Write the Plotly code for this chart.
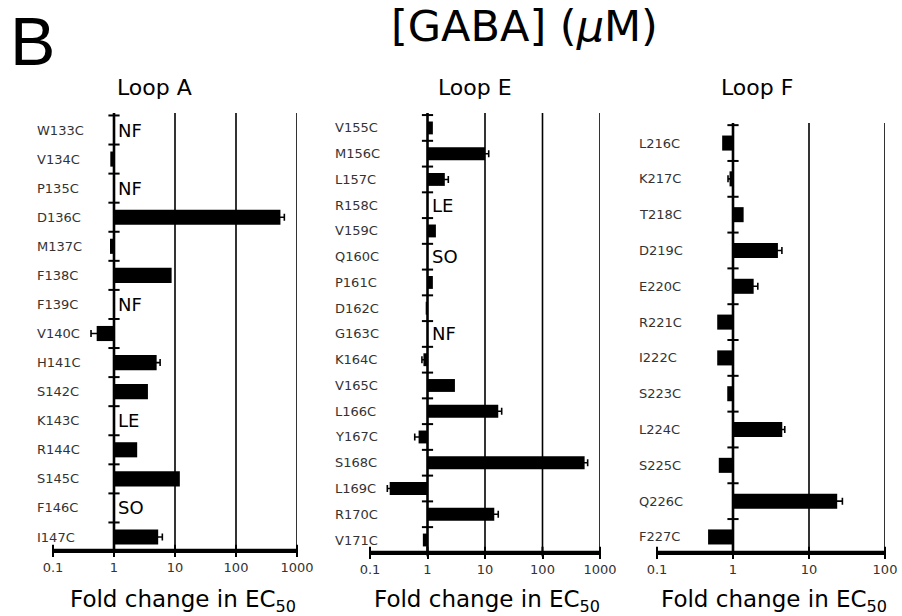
import math
import plotly.graph_objects as go

# ---------------- data ----------------
loopA_labels = ["W133C", "V134C", "P135C", "D136C", "M137C", "F138C", "F139C", "V140C",
                "H141C", "S142C", "K143C", "R144C", "S145C", "F146C", "I147C"]
loopA_fold = [None, 0.87, None, 535, 0.86, 8.8, None, 0.52, 5.0, 3.6, None, 2.4, 12.0, None, 5.3]
loopA_err = [None, 0, None, 85, 0, 0, None, 0.1, 0.7, 0, None, 0, 0, None, 0.9]
loopA_note = ["NF", "", "NF", "", "", "", "NF", "", "", "", "LE", "", "", "SO", ""]

loopE_labels = ["V155C", "M156C", "L157C", "R158C", "V159C", "Q160C", "P161C", "D162C", "G163C",
                "K164C", "V165C", "L166C", "Y167C", "S168C", "L169C", "R170C", "V171C"]
loopE_fold = [1.24, 10.0, 2.0, None, 1.4, None, 1.24, 0.93, None,
              0.85, 3.0, 17.0, 0.70, 540, 0.22, 14.5, 0.83]
loopE_err = [0, 1.6, 0.3, None, 0, None, 0, 0, None,
             0.05, 0, 2.5, 0.1, 70, 0.02, 2.5, 0]
loopE_note = ["", "", "", "LE", "", "SO", "", "", "NF", "", "", "", "", "", "", "", ""]

loopF_labels = ["L216C", "K217C", "T218C", "D219C", "E220C", "R221C",
                "I222C", "S223C", "L224C", "S225C", "Q226C", "F227C"]
loopF_fold = [0.72, 0.90, 1.38, 3.9, 1.87, 0.62, 0.62, 0.84, 4.45, 0.65, 23.5, 0.47]
loopF_err = [0, 0.04, 0, 0.5, 0.25, 0, 0, 0, 0.35, 0, 4.0, 0]
loopF_note = [""] * 12

ticksA = [0.1, 1, 10, 100, 1000]
ticksE = [0.1, 1, 10, 100, 1000]
ticksF = [0.1, 1, 10, 100]
tick_text = {0.1: "0.1", 1: "1", 10: "10", 100: "100", 1000: "1000"}

FONT = "DejaVu Sans"
W, H = 902, 616

panels = [
    dict(title="Loop A", labels=loopA_labels, fold=loopA_fold, err=loopA_err, note=loopA_note,
         ticks=ticksA, xdom=(53, 297), ytop=113, ybot=550, first=0.585, last=0.447,
         label_x=35, title_x=154, xtitle_x=183, barw=0.52),
    dict(title="Loop E", labels=loopE_labels, fold=loopE_fold, err=loopE_err, note=loopE_note,
         ticks=ticksE, xdom=(370, 600), ytop=113, ybot=552, first=0.58, last=0.466,
         label_x=333, title_x=475, xtitle_x=487, barw=0.5),
    dict(title="Loop F", labels=loopF_labels, fold=loopF_fold, err=loopF_err, note=loopF_note,
         ticks=ticksF, xdom=(657, 885), ytop=123, ybot=552, first=0.56, last=0.42,
         label_x=637, title_x=757, xtitle_x=774, barw=0.42),
]

fig = go.Figure()
annotations = []
shapes = []
layout = {}

for k, p in enumerate(panels, start=1):
    xa = "x" if k == 1 else f"x{k}"
    ya = "y" if k == 1 else f"y{k}"
    n = len(p["labels"])
    idx = list(range(n))
    y_lo = -p["first"]
    y_hi = n - 1 + p["last"]

    # vertical gridlines at decades above 1
    for t in p["ticks"]:
        if t > 1:
            fig.add_trace(go.Scatter(x=[t, t], y=[y_lo, y_hi], mode="lines",
                                     line=dict(color="black", width=1.6),
                                     xaxis=xa, yaxis=ya, hoverinfo="skip", showlegend=False))
    # bars drawn from 1
    fig.add_trace(go.Bar(
        y=idx, x=[(v - 1) if v is not None else None for v in p["fold"]], base=1,
        orientation="h", width=p["barw"], marker=dict(color="black", line=dict(width=0)),
        xaxis=xa, yaxis=ya, showlegend=False))
    # error bars (only where an error is shown)
    ex = [v for v, e in zip(p["fold"], p["err"]) if e]
    ey = [i for i, e in zip(idx, p["err"]) if e]
    ee = [e for e in p["err"] if e]
    fig.add_trace(go.Scatter(
        y=ey, x=ex, mode="markers", marker=dict(size=1, color="rgba(0,0,0,0)"),
        error_x=dict(type="data", array=ee, color="black", thickness=1.6, width=3.5),
        xaxis=xa, yaxis=ya, showlegend=False, hoverinfo="skip"))
    # vertical axis at x = 1
    fig.add_trace(go.Scatter(x=[1, 1], y=[y_lo, y_hi], mode="lines",
                             line=dict(color="black", width=2.6),
                             xaxis=xa, yaxis=ya, hoverinfo="skip", showlegend=False))
    # category boundary ticks on the x = 1 axis
    fig.add_trace(go.Scatter(x=[1] * n, y=[i - 0.5 for i in idx], mode="markers",
                             marker=dict(symbol="line-ew", size=8, line=dict(color="black", width=2)),
                             xaxis=xa, yaxis=ya, hoverinfo="skip", showlegend=False,
                             cliponaxis=False))

    # x-axis baseline and decade ticks (in axis-domain coordinates)
    xdref = f"{xa} domain"
    ydref = f"{ya} domain"
    shapes.append(dict(type="line", xref=xdref, yref=ydref, x0=0, x1=1, y0=0, y1=0,
                       line=dict(color="black", width=2.6), layer="above"))
    lmin, lmax = math.log10(p["ticks"][0]), math.log10(p["ticks"][-1])
    for t in p["ticks"]:
        fx = (math.log10(t) - lmin) / (lmax - lmin)
        shapes.append(dict(type="line", xref=xdref, yref=ydref, x0=fx, x1=fx, y0=-0.01, y1=0.012,
                           line=dict(color="black", width=2), layer="above"))

    x0, x1 = p["xdom"]
    xkey = "xaxis" if k == 1 else f"xaxis{k}"
    ykey = "yaxis" if k == 1 else f"yaxis{k}"
    layout[xkey] = dict(
        type="log", domain=[x0 / W, x1 / W], range=[lmin, lmax],
        tickvals=p["ticks"], ticktext=[tick_text[t] for t in p["ticks"]],
        showline=True, linecolor="black", linewidth=2.6,
        ticks="outside", ticklen=4, tickwidth=2, tickcolor="black",
        showgrid=False, zeroline=False, anchor=ya, automargin=False,
        tickfont=dict(family=FONT, size=13, color="#333"),
    )
    layout[ykey] = dict(
        domain=[(H - p["ybot"]) / H, (H - p["ytop"]) / H],
        range=[y_hi, y_lo], showticklabels=False, showgrid=False, zeroline=False,
        showline=False, ticks="", anchor=xa, automargin=False,
    )

    for i, lab in enumerate(p["labels"]):
        annotations.append(dict(text=lab, xref="paper", yref=ya, x=p["label_x"] / W, y=i,
                                xanchor="left", yanchor="middle", showarrow=False,
                                font=dict(family=FONT, size=13, color="#333")))
    for i, note in enumerate(p["note"]):
        if note:
            annotations.append(dict(text=note, xref=xa, yref=ya, x=math.log10(1), y=i,
                                    xanchor="left", yanchor="middle", xshift=2, showarrow=False,
                                    font=dict(family=FONT, size=18, color="black")))
    annotations.append(dict(text=p["title"], xref="paper", yref="paper", x=p["title_x"] / W,
                            y=(H - 87) / H, xanchor="center", yanchor="middle", showarrow=False,
                            font=dict(family=FONT, size=22, color="black")))
    annotations.append(dict(text="Fold change in EC<sub>50</sub>", xref="paper", yref="paper",
                            x=p["xtitle_x"] / W, y=(H - 601) / H, xanchor="center",
                            yanchor="middle", showarrow=False,
                            font=dict(family=FONT, size=23, color="black")))

annotations.append(dict(text="[GABA] (<i>μ</i>M)", xref="paper", yref="paper", x=524 / W,
                        y=(H - 26) / H, xanchor="center", yanchor="middle", showarrow=False,
                        font=dict(family=FONT, size=43, color="black")))
annotations.append(dict(text="B", xref="paper", yref="paper", x=8 / W, y=(H - 41) / H,
                        xanchor="left", yanchor="middle", showarrow=False,
                        font=dict(family="Liberation Sans", size=68, color="black")))

fig.update_layout(
    width=W, height=H, margin=dict(l=0, r=0, t=0, b=0, autoexpand=False),
    paper_bgcolor="white", plot_bgcolor="white", showlegend=False,
    barmode="overlay", annotations=annotations, shapes=shapes, **layout,
)

fig.write_html("out.html")
